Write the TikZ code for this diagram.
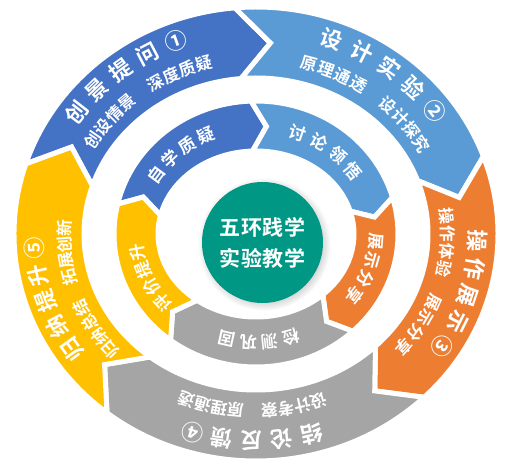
\documentclass[tikz,border=0pt]{standalone}
\usepackage{fontspec}
\newfontfamily\cjk{Noto Sans CJK SC}[BoldFont={Noto Sans CJK SC Bold}]
\usetikzlibrary{shadows}

\definecolor{cblue}{RGB}{68,114,196}
\definecolor{clight}{RGB}{91,155,213}
\definecolor{corange}{RGB}{237,125,49}
\definecolor{cgray}{RGB}{165,165,165}
\definecolor{cyellow}{RGB}{255,192,0}
\definecolor{cgreen}{RGB}{0,152,132}

% #1 colour, #2 tail angle, #3 head angle, #4/#5 outer radii, #6/#7 inner radii, #8 chevron depth
\newcommand{\arrowseg}[8]{%
  \pgfmathsetmacro{\rmx}{(#4+#6)/2}
  \pgfmathsetmacro{\rmy}{(#5+#7)/2}
  \filldraw[fill=#1, draw=white, line width=5pt, line join=miter]
    ({#4*cos(#2)},{#5*sin(#2)})
    arc[start angle=#2, end angle=#3, x radius=#4pt, y radius=#5pt]
    -- ({\rmx*cos(#3-#8)},{\rmy*sin(#3-#8)})
    -- ({#6*cos(#3)},{#7*sin(#3)})
    arc[start angle=#3, end angle=#2, x radius=#6pt, y radius=#7pt]
    -- ({\rmx*cos(#2-#8)},{\rmy*sin(#2-#8)})
    -- cycle;}

% #1 style, #2 first angle, #3 step, #4/#5 radii, #6 name, #7 characters
\newcommand{\ringtext}[7]{%
  \foreach \ch [count=\i] in {#7} {
    \pgfmathsetmacro{\chang}{#2-(\i-1)*#3}
    \pgfmathsetmacro{\chrot}{atan2(#4*sin(\chang),#5*cos(\chang))-90}
    \node[#1, rotate=\chrot] (#6\i) at ({#4*cos(\chang)},{#5*sin(\chang)}) {\ch};
  }}

\begin{document}
\begin{tikzpicture}[x=1pt,y=1pt]
  \tikzset{
    chr/.style={text=white, inner sep=0pt},
    bigline/.style={chr, font=\cjk\bfseries\fontsize{22}{22}\selectfont},
    smallline/.style={chr, font=\cjk\bfseries\fontsize{16.5}{16.5}\selectfont},
    innerline/.style={chr, font=\cjk\bfseries\fontsize{17}{17}\selectfont}
  }
  \useasboundingbox (-256,-240) rectangle (250,234);

  % outer ring
  \arrowseg{cblue}{162}{95}{242}{227}{172}{156}{9}
  \arrowseg{clight}{95}{20}{242}{227}{172}{156}{9}
  \arrowseg{corange}{20}{-46}{242}{227}{172}{156}{9}
  \arrowseg{cgray}{-46}{-128}{242}{227}{172}{156}{9}
  \arrowseg{cyellow}{232}{162}{242}{227}{172}{156}{9}

  % inner ring
  \arrowseg{cblue}{167}{92}{142}{133}{98}{83}{7}
  \arrowseg{clight}{92}{16}{142}{133}{98}{83}{7}
  \arrowseg{corange}{16}{-47}{142}{133}{98}{83}{7}
  \arrowseg{cgray}{-47}{-127}{142}{133}{98}{83}{7}
  \arrowseg{cyellow}{233}{167}{142}{133}{98}{83}{7}

  % outer labels
  \ringtext{bigline}{144}{8.2}{222}{207}{ba}{创,景,提,问,①}
  \ringtext{smallline}{148}{5.3}{192}{177}{bb}{创,设,情,景,{},深,度,质,疑}
  \ringtext{bigline}{70}{8.4}{222}{207}{la}{设,计,实,验,②}
  \ringtext{smallline}{74}{5.45}{192}{177}{lb}{原,理,通,透,{},设,计,探,究}
  \ringtext{bigline}{-2}{7.7}{222}{207}{oa}{操,作,展,示,③}
  \ringtext{smallline}{5.7}{5.66}{192}{177}{ob}{操,作,体,验,{},展,示,分,享}
  \ringtext{bigline}{-75.5}{7.8}{222}{207}{ga}{结,论,反,馈,④}
  \ringtext{smallline}{-71}{5}{192}{177}{gb}{设,计,考,察,{},原,理,通,透}
  \ringtext{bigline}{214}{7.5}{222}{207}{ya}{归,纳,提,升,⑤}
  \ringtext{smallline}{220.7}{5.34}{192}{177}{yb}{归,纳,总,结,{},拓,展,创,新}

  % inner labels
  \ringtext{innerline}{146.5}{10.7}{120}{108}{bi}{自,学,质,疑}
  \ringtext{innerline}{69.5}{11.2}{120}{108}{li}{讨,论,领,悟}
  \ringtext{innerline}{-4}{10.2}{120}{108}{oi}{展,示,分,享}
  \ringtext{innerline}{-73}{10.3}{120}{108}{gi}{检,测,巩,固}
  \ringtext{innerline}{219.5}{10}{120}{108}{yi}{评,价,提,升}

  % centre
  \node[circle, fill=cgreen, minimum size=121pt, inner sep=0pt,
    circular drop shadow={shadow xshift=1.5pt, shadow yshift=-1.5pt, opacity=0.35}] (core) at (6.5,-8.5) {};
  \node[text=white, font=\cjk\bfseries\fontsize{21}{31}\selectfont, align=center] (title) at (core)
    {\makebox[86pt][s]{五\hfil 环\hfil 践\hfil 学}\\\makebox[86pt][s]{实\hfil 验\hfil 教\hfil 学}};
\end{tikzpicture}
\end{document}
